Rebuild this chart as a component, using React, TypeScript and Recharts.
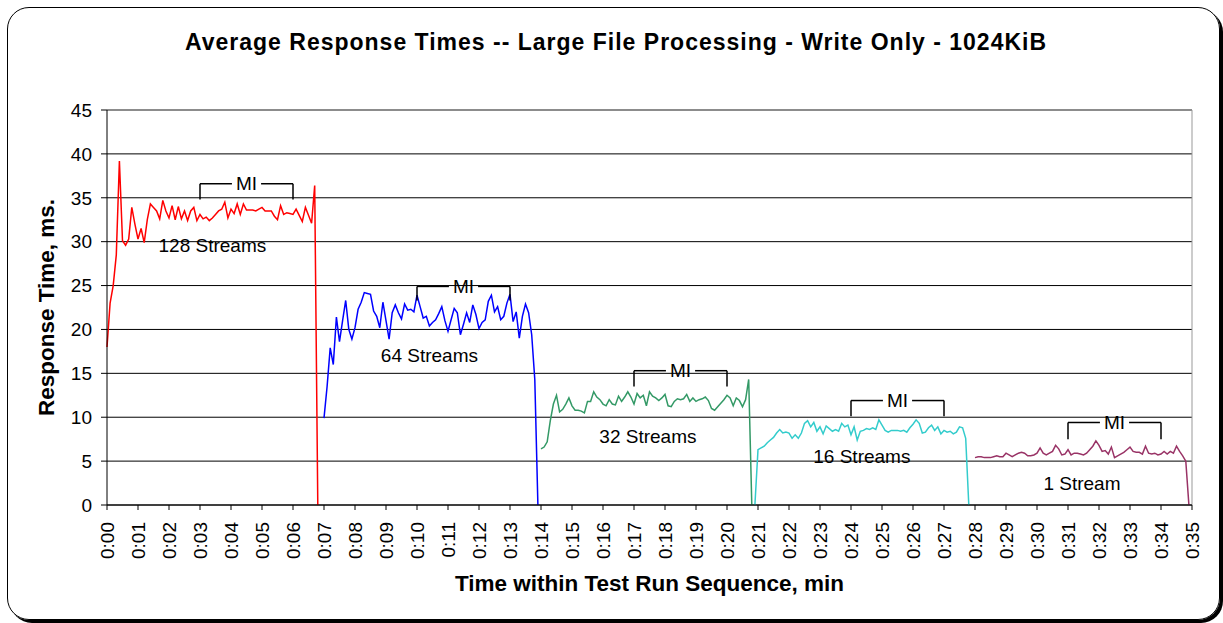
import { LineChart, Line, XAxis, YAxis, CartesianGrid, ReferenceLine, ReferenceDot, Label } from 'recharts';

// samples are 0.1 min apart, each run starts at its own time
const sampleStep = 0.1;
const streamNames = ['128 Streams', '64 Streams', '32 Streams', '16 Streams', '1 Stream'];
const streamStarts = [0, 7, 14, 20.9, 28];

const streams128 = [
  18, 23, 25, 28.5, 39.2, 30.1, 29.6, 30.3, 33.9, 32, 30.3, 31.5, 29.9, 32.5, 34.3, 33.9, 33.5, 32.6, 34.7, 33.5,
  32.7, 34.1, 32.5, 34, 32.6, 33.5, 32.4, 33.5, 33.9, 32.4, 33.1, 32.6, 32.8, 32.4, 32.7, 33.1, 33.5, 33.7, 34.5, 32.7,
  33.7, 33.2, 34.3, 33.1, 34.3, 33.6, 33.6, 33.6, 33.5, 33.7, 33.9, 33.5, 33.5, 33.5, 32.9, 32.5, 34.1, 33.1, 33.3, 33.2,
  33.1, 33.7, 33.0, 32.3, 33.9, 33.0, 32.1, 36.4, 0,
];
const streams64 = [
  9.9, 13.5, 17.9, 16.0, 21.4, 18.6, 21.0, 23.3, 20.0, 18.9, 20.2, 22.3, 23.1, 24.2, 24.1, 24.0, 22.1, 21.5, 20.2, 23.1,
  21.0, 18.9, 21.9, 22.8, 21.9, 21.2, 22.9, 22.2, 22.3, 22.0, 23.9, 22.6, 21.3, 21.5, 20.4, 20.8, 21.1, 21.8, 22.6, 21.0,
  19.8, 21.1, 22.4, 21.9, 19.4, 20.6, 21.9, 20.8, 22.8, 21.7, 20.1, 20.8, 21.1, 23.2, 23.9, 22.0, 22.6, 21.1, 21.5, 23.0,
  24.0, 20.9, 22.0, 19.0, 21.5, 22.9, 21.9, 19.4, 14.3, 0,
];
const streams32 = [
  6.4, 6.6, 7.2, 9.6, 11.5, 12.5, 10.6, 10.9, 11.5, 12.2, 11.3, 10.8, 10.8, 10.7, 10.5, 11.8, 11.8, 12.9, 12.3, 12.0,
  11.5, 11.3, 12.0, 11.5, 11.4, 12.4, 11.8, 12.3, 12.9, 12.3, 11.5, 12.7, 12.2, 12.5, 11.3, 12.9, 12.4, 12.2, 11.9, 12.2,
  12.6, 11.3, 11.2, 11.8, 12.1, 12.0, 12.1, 12.6, 11.8, 12.2, 11.8, 12.0, 12.1, 12.3, 11.9, 11.0, 10.8, 11.2, 11.6, 12.0,
  12.5, 12.2, 11.3, 12.2, 11.9, 11.2, 12.0, 14.3, 0,
];
const streams16 = [
  0, 6.3, 6.5, 6.7, 7.1, 7.4, 7.7, 8.2, 8.6, 8.2, 8.3, 8.2, 7.6, 8.0, 7.6, 8.2, 9.3, 9.6, 8.9, 9.4,
  8.4, 8.9, 8.1, 9.0, 8.7, 8.4, 8.6, 8.4, 9.3, 8.9, 9.1, 8.0, 8.9, 7.4, 8.4, 8.5, 8.7, 8.6, 8.8, 8.6,
  9.7, 9.1, 8.5, 8.3, 8.5, 8.5, 8.5, 8.4, 8.5, 8.3, 8.8, 9.2, 9.7, 9.3, 8.2, 8.3, 8.8, 9.1, 8.5, 8.9,
  8.1, 8.5, 8.3, 8.4, 8.1, 8.3, 8.9, 8.8, 7.6, 0,
];
const streams1 = [
  5.4, 5.5, 5.5, 5.4, 5.4, 5.4, 5.5, 5.6, 5.5, 5.5, 5.9, 5.7, 5.5, 5.7, 5.9, 6.0, 5.9, 5.6, 5.6, 5.7,
  5.9, 6.5, 5.9, 5.7, 5.9, 6.1, 6.8, 6.4, 5.7, 5.8, 6.3, 5.7, 5.9, 5.9, 5.8, 5.7, 5.9, 6.3, 6.7, 7.3,
  6.8, 6.1, 6.2, 5.8, 6.6, 5.4, 5.6, 5.8, 6.0, 6.3, 6.6, 6.1, 6.0, 6.0, 5.8, 6.7, 5.9, 5.8, 5.9, 5.7,
  5.8, 6.1, 5.8, 6.1, 5.9, 6.7, 6.1, 5.6, 5.0, 0,
];

const timeTicks = [
  0, 1, 2, 3, 4, 5, 6, 7, 8, 9, 10, 11, 12, 13, 14, 15, 16, 17,
  18, 19, 20, 21, 22, 23, 24, 25, 26, 27, 28, 29, 30, 31, 32, 33, 34, 35,
];
const timeTickLabels = [
  '0:00', '0:01', '0:02', '0:03', '0:04', '0:05', '0:06', '0:07', '0:08', '0:09', '0:10', '0:11',
  '0:12', '0:13', '0:14', '0:15', '0:16', '0:17', '0:18', '0:19', '0:20', '0:21', '0:22', '0:23',
  '0:24', '0:25', '0:26', '0:27', '0:28', '0:29', '0:30', '0:31', '0:32', '0:33', '0:34', '0:35',
];
const responseTicks = [0, 5, 10, 15, 20, 25, 30, 35, 40, 45];

// measurement interval brackets
const miStarts = [3, 10, 17, 24, 31];
const miEnds = [6, 13, 20, 27, 34];
const miTops = [36.6, 24.9, 15.3, 11.9, 9.4];
const miFeet = [34.8, 23.3, 13.5, 10.1, 7.5];

// where the run names sit
const nameTimes = [3.4, 10.4, 17.45, 24.35, 31.45];
const nameValues = [29.6, 17.1, 7.85, 5.5, 2.5];

const lineColors = ['#FF0000', '#0000FF', '#339966', '#33CCCC', '#993366'];
const fontFamily = '"Liberation Sans", Arial, sans-serif';
const gapHalf = 0.47;

const allRuns = [streams128, streams64, streams32, streams16, streams1];
const runData = allRuns.map((values, r) =>
  values.map((v, i) => ({ t: Math.round((streamStarts[r] + i * sampleStep) * 10) / 10, v }))
);

const TimeTick = ({ x, y, payload }: any) => {
  const idx = timeTicks.indexOf(payload.value);
  return (
    <text
      x={x}
      y={y}
      dy="0.35em"
      textAnchor="end"
      transform={`rotate(-90 ${x} ${y})`}
      fontSize={19}
      fill="#000"
    >
      {timeTickLabels[idx]}
    </text>
  );
};

const App = () => {
  return (
    <div style={{ position: 'absolute', left: 0, top: 0, width: 1223, height: 623, background: '#fff', fontFamily }}>
      <div
        style={{
          position: 'absolute',
          left: 7,
          top: 7,
          width: 1213,
          height: 613,
          boxSizing: 'border-box',
          border: '1px solid #000',
          borderRadius: 22,
          boxShadow: '3px 3px 0 #000',
        }}
      />
      <div
        style={{
          position: 'absolute',
          left: 0,
          top: 31,
          width: 1232,
          textAlign: 'center',
          fontSize: 23,
          lineHeight: 1,
          fontWeight: 'bold',
          letterSpacing: 1,
          color: '#000',
        }}
      >
        Average Response Times -- Large File Processing - Write Only - 1024KiB
      </div>
      <div style={{ position: 'absolute', left: 0, top: 0 }}>
        <LineChart width={1223} height={623} margin={{ top: 110, right: 31, bottom: 58, left: 47 }}>
          <CartesianGrid vertical={false} stroke="#000" />
          <XAxis
            type="number"
            dataKey="t"
            domain={[0, 35]}
            ticks={timeTicks}
            interval={0}
            height={60}
            tickSize={5}
            tickMargin={12}
            axisLine={{ stroke: '#000' }}
            tickLine={{ stroke: '#000' }}
            tick={<TimeTick />}
          >
            <Label
              value="Time within Test Run Sequence, min"
              position="bottom"
              offset={10}
              style={{ fontSize: 22.5, fontWeight: 'bold', fill: '#000' }}
            />
          </XAxis>
          <YAxis
            type="number"
            domain={[0, 45]}
            ticks={responseTicks}
            interval={0}
            width={60}
            tickSize={6}
            tickMargin={9}
            axisLine={{ stroke: '#000' }}
            tickLine={{ stroke: '#000' }}
            tick={{ fontSize: 19, fill: '#000' }}
          >
            <Label
              value="Response Time, ms."
              angle={-90}
              position="insideLeft"
              offset={-1}
              style={{ textAnchor: 'middle', fontSize: 22.5, fontWeight: 'bold', fill: '#000' }}
            />
          </YAxis>
          <ReferenceLine y={45} stroke="#999" />
          <ReferenceLine x={35} stroke="#999" />

          {runData.map((points, r) => (
            <Line
              key={streamNames[r]}
              data={points}
              dataKey="v"
              type="linear"
              stroke={lineColors[r]}
              strokeWidth={1.5}
              dot={false}
              isAnimationActive={false}
            />
          ))}

          {miStarts.map((start, i) => {
            const mid = (start + miEnds[i]) / 2;
            return [
              <ReferenceLine key={`ml${i}`} segment={[{ x: start, y: miFeet[i] }, { x: start, y: miTops[i] }]} stroke="#000" strokeWidth={1.5} />,
              <ReferenceLine key={`mt${i}`} segment={[{ x: start, y: miTops[i] }, { x: mid - gapHalf, y: miTops[i] }]} stroke="#000" strokeWidth={1.5} />,
              <ReferenceLine key={`mu${i}`} segment={[{ x: mid + gapHalf, y: miTops[i] }, { x: miEnds[i], y: miTops[i] }]} stroke="#000" strokeWidth={1.5} />,
              <ReferenceLine key={`mr${i}`} segment={[{ x: miEnds[i], y: miTops[i] }, { x: miEnds[i], y: miFeet[i] }]} stroke="#000" strokeWidth={1.5} />,
              <ReferenceDot
                key={`mi${i}`}
                x={mid}
                y={miTops[i]}
                r={0}
                fill="none"
                stroke="none"
                label={{ value: 'MI', position: 'center', fontSize: 19, fill: '#000' }}
              />,
            ];
          })}

          {streamNames.map((name, i) => (
            <ReferenceDot
              key={`n${i}`}
              x={nameTimes[i]}
              y={nameValues[i]}
              r={0}
              fill="none"
              stroke="none"
              label={{ value: name, position: 'center', fontSize: 19, fill: '#000' }}
            />
          ))}
        </LineChart>
      </div>
    </div>
  );
};

export default App;
